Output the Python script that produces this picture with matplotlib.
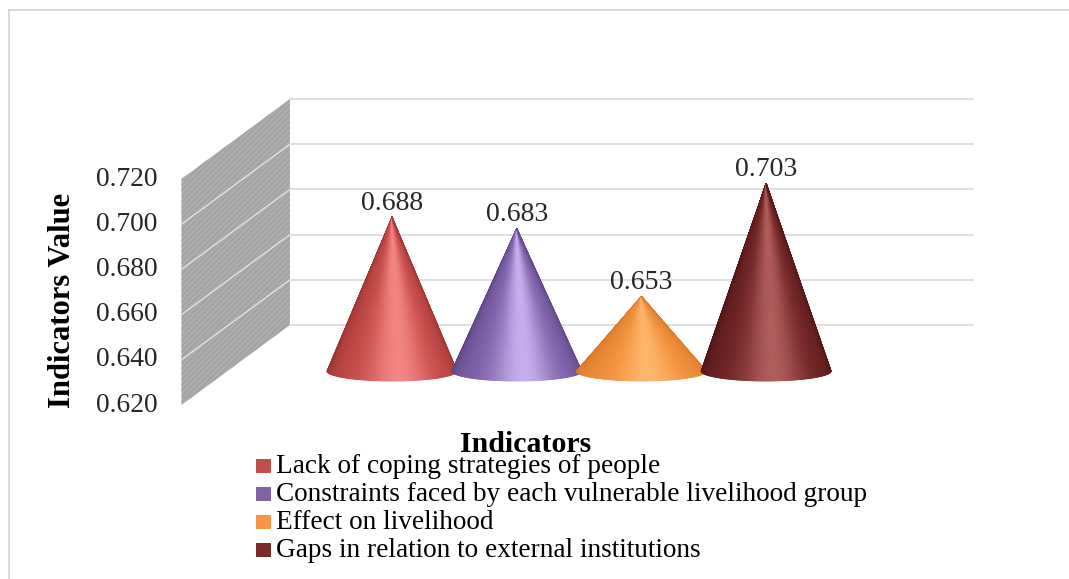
import numpy as np
import matplotlib
matplotlib.use("Agg")
import matplotlib.pyplot as plt
from matplotlib.collections import PolyCollection
from matplotlib.patches import Polygon, Rectangle
from matplotlib.lines import Line2D
from matplotlib.colors import to_rgb

# ---- data -------------------------------------------------------------
categories = [
    "Lack of coping strategies of people",
    "Constraints faced by each vulnerable livelihood group",
    "Effect on livelihood",
    "Gaps in relation to external institutions",
]
values = [0.688, 0.683, 0.653, 0.703]
y_ticks = [0.620, 0.640, 0.660, 0.680, 0.700, 0.720]
y_label = "Indicators Value"
x_title = "Indicators"

# ---- styles -----------------------------------------------------------
legend_colors = ["#c0504d", "#8064a2", "#f79646", "#772c2a"]
# (edge shadow, body, highlight) for each cone
cone_shades = [
    ("#9c3330", "#cf5350", "#f28584"),
    ("#5e4584", "#8a6bb5", "#c6aeec"),
    ("#d9782a", "#f5963f", "#fdb56c"),
    ("#4f1514", "#7a2b2a", "#b05c5a"),
]
text_color = "#262626"
grid_color = "#d9d9d9"

plt.rcParams["font.family"] = ["Liberation Serif", "DejaVu Serif"]
plt.rcParams["hatch.color"] = "#9b9b9b"
plt.rcParams["hatch.linewidth"] = 0.6

W, H = 1069, 579
fig = plt.figure(figsize=(W / 100, H / 100), dpi=100)

# axes = plane through the cone axes (pixels of that plane in the figure)
left_px, right_px, base_px, top_px = 329.7, 828.5, 371.0, 145.0
ax = fig.add_axes([left_px / W, 1 - base_px / H,
                   (right_px - left_px) / W, (base_px - top_px) / H])
ymin, ymax = y_ticks[0], y_ticks[-1]
n = len(values)
ax.set_xlim(-0.5, n - 0.5)
ax.set_ylim(ymin, ymax)
ax.axis("off")

ux = (right_px - left_px) / n            # pixels per category
uy = (base_px - top_px) / (ymax - ymin)  # pixels per value unit
back = np.array([62.5 / ux, 46.0 / uy])     # depth offset to the back wall
front = np.array([-46.0 / ux, -34.0 / uy])  # depth offset to the front edge
wall_x = -1.32
grid_end = 4.158


def at(x, y, d):
    return (x + d[0], y + d[1])


# side wall
wall_pts = [at(wall_x, ymin, front), at(wall_x, ymax, front),
            at(wall_x, ymax, back), at(wall_x, ymin, back)]
ax.add_patch(Polygon(wall_pts, closed=True, facecolor="#ababab",
                     edgecolor="#9b9b9b", hatch="//////", linewidth=0,
                     clip_on=False, zorder=1))
for v in y_ticks[1:-1]:
    p0, p1 = at(wall_x, v, front), at(wall_x, v, back)
    ax.add_line(Line2D([p0[0], p1[0]], [p0[1], p1[1]], color="#dedede",
                       lw=1.1, clip_on=False, zorder=2))

# back wall gridlines
for v in y_ticks:
    p0, p1 = at(wall_x, v, back), at(grid_end, v, back)
    ax.add_line(Line2D([p0[0], p1[0]], [p0[1], p1[1]], color=grid_color,
                       lw=1.2, clip_on=False, zorder=1))

# tick labels along the front edge
for v in y_ticks:
    x, y = at(wall_x, v, front)
    ax.text(x - 24 / ux, y, f"{v:.3f}", ha="right", va="center",
            fontsize=19.8, color=text_color, clip_on=False)


# cones
def shade(phi, cols):
    sh, body, hi = (np.array(to_rgb(c)) for c in cols)
    t = np.clip(np.cos(phi - 0.12), 0, 1)
    c = sh + (body - sh) * t ** 0.8
    c = c + (hi - body) * t ** 10
    return np.clip(c, 0, 1)


half_w = 65.0 / ux
half_h = 10.0 / uy
nseg = 160
for i, (v, cols) in enumerate(zip(values, cone_shades)):
    phis = np.linspace(-np.pi / 2, np.pi / 2, nseg + 1)
    bx = i + half_w * np.sin(phis)
    by = ymin - half_h * np.cos(phis)
    tris, fcs = [], []
    for k in range(nseg):
        tris.append([(i, v), (bx[k], by[k]), (bx[k + 1], by[k + 1])])
        fcs.append(shade(0.5 * (phis[k] + phis[k + 1]), cols))
    pc = PolyCollection(tris, facecolors=fcs, edgecolors=fcs,
                        linewidths=0.6, clip_on=False, zorder=5 + i)
    ax.add_collection(pc)
    ax.annotate(f"{v:.3f}", (i, v), xytext=(0, 14), textcoords="offset pixels",
                ha="center", va="center", fontsize=20, color=text_color,
                annotation_clip=False, zorder=20)

# axis titles
fig.text(62 / W, 1 - 300 / H, y_label, rotation=90, ha="center", va="center",
         fontsize=22, fontweight="bold", color="black")
fig.text(526 / W, 1 - 452 / H, x_title, ha="center", va="baseline",
         fontsize=21.5, fontweight="bold", color="black")

# legend, one row per category
row0, row_step = 473, 28.0
for k, (lab, col) in enumerate(zip(categories, legend_colors)):
    base = row0 + k * row_step
    fig.patches.append(Rectangle((256 / W, 1 - base / H), 15 / W, 14 / H,
                                 transform=fig.transFigure, facecolor=col,
                                 edgecolor="none"))
    fig.text(276 / W, 1 - base / H, lab, ha="left", va="baseline",
             fontsize=19.6, color="black")

# chart frame
fig.add_artist(Line2D([8.5 / W, 1.0], [1 - 10 / H, 1 - 10 / H],
                      transform=fig.transFigure, color="#d4d4d4", lw=1.3))
fig.add_artist(Line2D([8.5 / W, 8.5 / W], [0.0, 1 - 10 / H],
                      transform=fig.transFigure, color="#d4d4d4", lw=1.3))

fig.savefig("out.png", dpi=100)
